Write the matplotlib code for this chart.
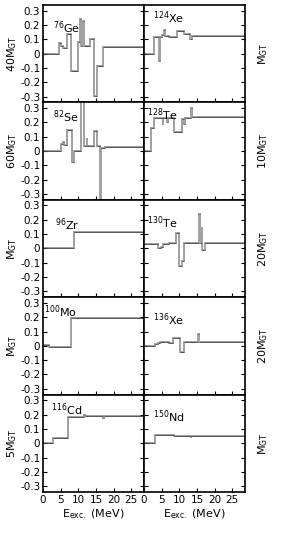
import numpy as np
import matplotlib
matplotlib.use('Agg')
from matplotlib import pyplot as plt

plt.rcParams['mathtext.default'] = 'regular'

# step data: bin edges (MeV) and value in each bin (scaled M_GT)
ge76_e = [0, 4.5, 5.2, 5.7, 6.9, 7.9, 9.8, 10.4, 10.8, 11.2, 11.5, 13.3, 14.5, 15.2, 17.0, 28.6]
ge76_v = [0, 0.075, 0.05, 0.04, 0.136, -0.125, 0.08, 0.24, 0.055, 0.23, 0.055, 0.1, -0.295, -0.085, 0.047]

se82_e = [0, 5.0, 5.6, 6.0, 6.7, 8.3, 8.9, 10.7, 11.7, 12.3, 12.5, 14.3, 15.2, 16.0, 16.4, 17.6, 28.6]
se82_v = [0, 0.05, 0.065, 0.04, 0.15, -0.08, 0.0, 0.4, 0.035, 0.09, 0.035, 0.14, 0.035, -0.4, 0.02, 0.03]

zr96_e = [0, 8.9, 28.6]
zr96_v = [0, 0.117]

mo100_e = [0, 1.6, 7.9, 28.6]
mo100_v = [0.003, -0.005, 0.195]

cd116_e = [0, 2.9, 7.0, 11.5, 12.0, 17.0, 17.2, 28.6]
cd116_v = [0, 0.035, 0.185, 0.197, 0.19, 0.178, 0.19]

xe124_e = [0, 2.7, 4.2, 4.4, 5.0, 5.6, 5.8, 7.0, 9.3, 11.2, 12.9, 13.5, 28.6]
xe124_v = [0, 0.113, -0.055, 0.113, 0.13, 0.165, 0.125, 0.115, 0.16, 0.14, 0.1, 0.125]

te128_e = [0, 2.1, 2.9, 5.3, 5.5, 6.6, 6.8, 8.4, 10.7, 11.2, 11.6, 13.3, 13.5, 14.8, 28.6]
te128_v = [0, 0.16, 0.23, 0.18, 0.23, 0.2, 0.23, 0.13, 0.22, 0.19, 0.23, 0.3, 0.24, 0.235]

te130_e = [0, 4.0, 4.8, 5.3, 6.0, 7.1, 9.0, 9.8, 10.7, 11.4, 15.5, 15.8, 16.3, 16.5, 17.3, 28.6]
te130_v = [0.033, 0.0, 0.012, 0.028, 0.033, 0.038, 0.105, -0.125, -0.085, 0.035, 0.24, 0.04, 0.15, -0.01, 0.035]

xe136_e = [0, 3.1, 4.0, 4.6, 6.0, 7.0, 8.1, 10.1, 11.2, 15.4, 15.6, 28.6]
xe136_v = [0, 0.012, 0.02, 0.025, 0.03, 0.02, 0.055, -0.04, 0.03, 0.08, 0.026]

nd150_e = [0, 3.1, 8.4, 13.2, 13.4, 28.6]
nd150_v = [0, 0.06, 0.053, 0.035, 0.053]

left_panels = [
    (ge76_e, ge76_v, '$^{76}$Ge', '40M$_{GT}$', (2.9, 0.18)),
    (se82_e, se82_v, '$^{82}$Se', '60M$_{GT}$', (2.9, 0.24)),
    (zr96_e, zr96_v, '$^{96}$Zr', 'M$_{GT}$', (3.4, 0.165)),
    (mo100_e, mo100_v, '$^{100}$Mo', 'M$_{GT}$', (0.3, 0.24)),
    (cd116_e, cd116_v, '$^{116}$Cd', '5M$_{GT}$', (2.3, 0.235)),
]
right_panels = [
    (xe124_e, xe124_v, '$^{124}$Xe', 'M$_{GT}$', (2.5, 0.25)),
    (te128_e, te128_v, '$^{128}$Te', '10M$_{GT}$', (0.8, 0.25)),
    (te130_e, te130_v, '$^{130}$Te', '20M$_{GT}$', (0.8, 0.18)),
    (xe136_e, xe136_v, '$^{136}$Xe', '20M$_{GT}$', (2.5, 0.18)),
    (nd150_e, nd150_v, '$^{150}$Nd', 'M$_{GT}$', (2.5, 0.185)),
]

yticks = [-0.3, -0.2, -0.1, 0, 0.1, 0.2, 0.3]
yticklabels = ['-0.3', '-0.2', '-0.1', '0', '0.1', '0.2', '0.3']
xticks = [0, 5, 10, 15, 20, 25]

fig = plt.figure(figsize=(2.89, 5.42), dpi=100)
gs = fig.add_gridspec(5, 2, left=0.149, right=0.848, bottom=0.0923, top=0.991,
                      hspace=0, wspace=0)


def draw(ax, e, v, name, lab, pos, right):
    e = np.array(e)
    v = np.array(v)
    # gray steps, thin darker horizontals on top
    ax.stairs(v, e, color='#a0a0a0', lw=1.4, baseline=None)
    ax.hlines(v, e[:-1], e[1:], color='#4a4a4a', lw=0.6)
    ax.set_xlim(0, 28.6)
    ax.set_ylim(-0.34, 0.34)
    ax.set_yticks(yticks)
    ax.set_xticks(xticks)
    ax.tick_params(direction='in', length=3, width=0.8, left=True, right=True,
                   labelsize=7.5, pad=2)
    ax.text(pos[0], pos[1], name, fontsize=8, va='center', ha='left')
    if right:
        ax.set_yticklabels([])
        ax.yaxis.set_label_position('right')
        ax.set_ylabel(lab, fontsize=8, rotation=90, labelpad=8)
    else:
        ax.set_yticklabels(yticklabels)
        ax.set_ylabel(lab, fontsize=8, labelpad=1)
    for s in ax.spines.values():
        s.set_linewidth(1.2)


for i in range(5):
    axl = fig.add_subplot(gs[i, 0])
    axr = fig.add_subplot(gs[i, 1])
    draw(axl, *left_panels[i], right=False)
    draw(axr, *right_panels[i], right=True)
    if i < 4:
        axl.set_xticklabels([])
        axr.set_xticklabels([])
    else:
        axl.set_xlabel('E$_{exc.}$ (MeV)', fontsize=8, labelpad=2)
        axr.set_xlabel('E$_{exc.}$ (MeV)', fontsize=8, labelpad=2)

fig.savefig('out.png', dpi=100)
